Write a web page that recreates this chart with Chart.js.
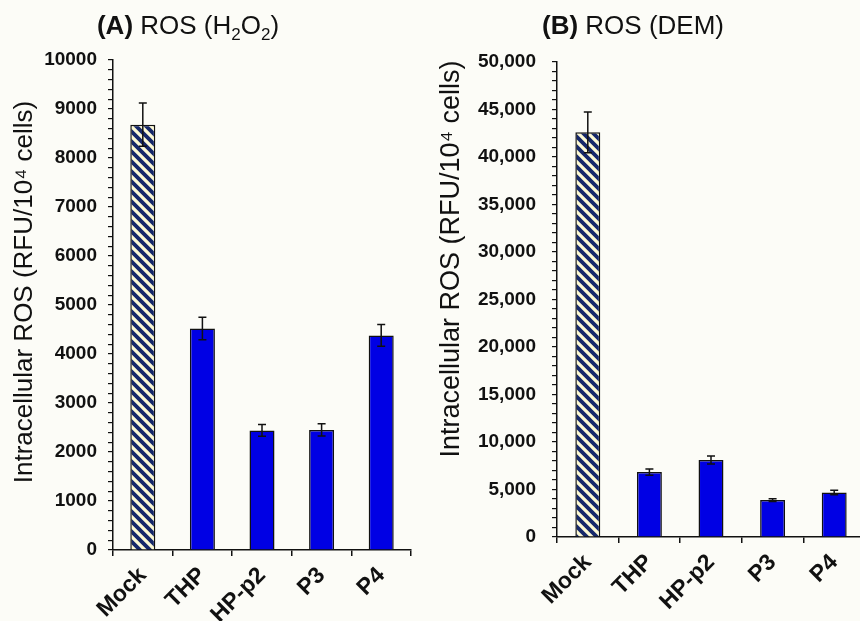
<!DOCTYPE html>
<html>
<head>
<meta charset="utf-8">
<script src="https://cdn.jsdelivr.net/npm/chart.js@4.4.1/dist/chart.umd.min.js"></script>
<style>
  html, body { margin: 0; padding: 0; background: #fcfcf7; }
  #wrap { position: relative; width: 860px; height: 621px; overflow: hidden; }
  #boxA { position: absolute; left: 0; top: 0; width: 430px; height: 621px; }
  #boxB { position: absolute; left: 430px; top: 0; width: 440px; height: 621px; }
</style>
</head>
<body>
<div id="wrap">
  <div id="boxA"><canvas id="chartA" width="430" height="621"></canvas></div>
  <div id="boxB"><canvas id="chartB" width="440" height="621"></canvas></div>
</div>
<script>
// Data
const categories = ['Mock', 'THP', 'HP-p2', 'P3', 'P4'];
const rosH2O2 = [8680, 4520, 2440, 2450, 4380];
const rosH2O2Err = [440, 230, 120, 125, 220];
const rosDEM = [42600, 6830, 8100, 3890, 4690];
const rosDEMErr = [2150, 330, 420, 140, 230];

const FONT = "'Liberation Sans', Arial, sans-serif";
const yTitle = 'Intracellular ROS (RFU/10\u2074 cells)';

// Striped fill for the Mock bar
function stripePattern() {
    const c = document.createElement('canvas');
    c.width = 10; c.height = 10;
    const g = c.getContext('2d');
    g.fillStyle = '#fcf9d4';
    g.fillRect(0, 0, 10, 10);
    g.strokeStyle = '#16286a';
    g.lineWidth = 3.8;
    g.beginPath();
    g.moveTo(-2, -2); g.lineTo(12, 12);
    g.moveTo(-2, 8); g.lineTo(2, 12);
    g.moveTo(8, -2); g.lineTo(12, 2);
    g.stroke();
    return g.createPattern(c, 'repeat');
}

// Error bars drawn from the y scale
const errorBars = {
    id: 'errorBars',
    afterDatasetsDraw(chart, args, opts) {
        const ctx = chart.ctx;
        const y = chart.scales.y;
        const meta = chart.getDatasetMeta(0);
        const vals = chart.data.datasets[0].data;
        ctx.save();
        ctx.strokeStyle = '#111';
        ctx.lineWidth = 1.5;
        meta.data.forEach((bar, i) => {
            const top = y.getPixelForValue(vals[i] + opts.err[i]);
            const bot = y.getPixelForValue(vals[i] - opts.err[i]);
            ctx.beginPath();
            ctx.moveTo(bar.x, top); ctx.lineTo(bar.x, bot);
            ctx.moveTo(bar.x - 4, top); ctx.lineTo(bar.x + 4, top);
            ctx.moveTo(bar.x - 4, bot); ctx.lineTo(bar.x + 4, bot);
            ctx.stroke();
        });
        ctx.restore();
    }
};

// Panel title with bold letter + subscripts, and rotated y title
const panelText = {
    id: 'panelText',
    afterDraw(chart, args, opts) {
        const ctx = chart.ctx;
        ctx.save();
        ctx.fillStyle = '#111';
        ctx.textBaseline = 'alphabetic';
        const parts = opts.parts;
        let total = 0;
        parts.forEach(p => { ctx.font = p.font; total += ctx.measureText(p.t).width; });
        let x = opts.cx - total / 2;
        parts.forEach(p => {
            ctx.font = p.font;
            ctx.fillText(p.t, x, opts.baseline + (p.dy || 0));
            x += ctx.measureText(p.t).width;
        });
        ctx.translate(opts.yx, opts.yy);
        ctx.rotate(-Math.PI / 2);
        ctx.font = opts.yFont;
        ctx.textAlign = 'center';
        ctx.textBaseline = 'middle';
        ctx.fillText(yTitle, 0, 0);
        ctx.restore();
    }
};

function makeChart(id, values, errs, max, step, labelStep, fmt, geo, title) {
    const ctx = document.getElementById(id).getContext('2d');
    return new Chart(ctx, {
        type: 'bar',
        data: {
            labels: categories,
            datasets: [{
                data: values,
                backgroundColor: values.map((v, i) => i === 0 ? stripePattern() : '#0000e4'),
                borderColor: '#111',
                borderWidth: 1.5,
                barPercentage: geo.barPct,
                categoryPercentage: 1
            }]
        },
        options: {
            responsive: false,
            animation: false,
            layout: { padding: { top: geo.top, right: geo.right, left: 0, bottom: 0 } },
            plugins: {
                legend: { display: false },
                tooltip: { enabled: false },
                errorBars: { err: errs },
                panelText: title
            },
            scales: {
                x: {
                    afterFit: s => { s.height = geo.xh; },
                    grid: { drawOnChartArea: false, tickLength: 6, color: '#111', lineWidth: 1.5 },
                    border: { color: '#111', width: 1.5 },
                    ticks: {
                        color: '#111', minRotation: 45, maxRotation: 45, padding: 6,
                        font: { family: FONT, size: 23, weight: 'bold' }
                    }
                },
                y: {
                    min: 0, max: max,
                    afterFit: s => { s.width = geo.yw; },
                    grid: { drawOnChartArea: false, tickLength: 5, color: '#111', lineWidth: 1.2 },
                    border: { color: '#111', width: 1.5 },
                    ticks: {
                        stepSize: step, autoSkip: false, color: '#111', padding: geo.pad,
                        font: { family: FONT, size: 19, weight: 'bold' },
                        callback: v => v % labelStep === 0 ? fmt(v) : ''
                    }
                }
            }
        },
        plugins: [errorBars, panelText]
    });
}

const bold = "bold 26px " + FONT, norm = "26px " + FONT, sub = "17px " + FONT;

makeChart('chartA', rosH2O2, rosH2O2Err, 10000, 200, 1000, v => String(v),
    { barPct: 0.42, top: 60, right: 19, xh: 71, yw: 113, pad: 11 },
    {
        cx: 188, baseline: 34,
        parts: [
            { t: '(A)', font: bold }, { t: ' ROS (H', font: norm },
            { t: '2', font: sub, dy: 6 }, { t: 'O', font: norm },
            { t: '2', font: sub, dy: 6 }, { t: ')', font: norm }
        ],
        yx: 25, yy: 292, yFont: "26px " + FONT
    });

makeChart('chartB', rosDEM, rosDEMErr, 50000, 1000, 5000, v => v.toLocaleString('en-US'),
    { barPct: 0.405, top: 62, right: 5, xh: 84, yw: 127, pad: 16 },
    {
        cx: 203, baseline: 34,
        parts: [{ t: '(B)', font: bold }, { t: ' ROS (DEM)', font: norm }],
        yx: 22, yy: 259, yFont: "27px " + FONT
    });
</script>
</body>
</html>
